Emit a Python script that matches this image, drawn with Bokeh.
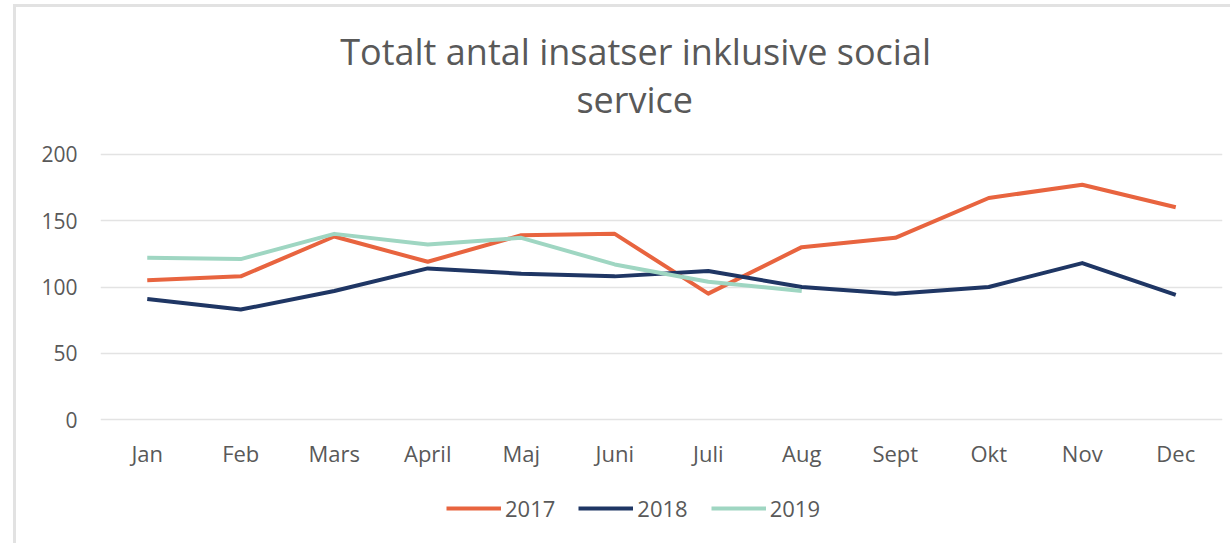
from bokeh.plotting import figure
from bokeh.models import Range1d, FactorRange, Legend, LegendItem, FixedTicker, Label
from bokeh.layouts import column
from bokeh.embed import file_html
from bokeh.resources import INLINE

# ---- data ----
months = ["Jan", "Feb", "Mars", "April", "Maj", "Juni", "Juli", "Aug", "Sept", "Okt", "Nov", "Dec"]
y_ticks = [0, 50, 100, 150, 200]
series_names = ["2017", "2018", "2019"]
v2017 = [105, 108, 138, 119, 139, 140, 95, 130, 137, 167, 177, 160]
v2018 = [91, 83, 97, 114, 110, 108, 112, 100, 95, 100, 118, 94]
v2019 = [122, 121, 140, 132, 137, 117, 104, 97]
title_lines = ["Totalt antal insatser inklusive social", "service"]

colors = ["#E8643F", "#1F3664", "#9FD6C2"]
text_color = "#595959"
font = "Open Sans"

W = 1214
H_TOP, H_MAIN, H_LEG = 133, 330, 73


def bare(fig):
    fig.outline_line_color = None
    fig.background_fill_color = "white"
    fig.border_fill_color = "white"
    fig.xgrid.grid_line_color = None
    fig.ygrid.grid_line_color = None
    return fig


# ---- title strip ----
p_title = bare(figure(width=W, height=H_TOP, x_range=Range1d(0, W), y_range=Range1d(0, H_TOP),
                      x_axis_location=None, y_axis_location=None,
                      output_backend="svg", toolbar_location=None, min_border=0))
p_title.add_layout(Label(x=579, y=89, text=title_lines[0], text_align="center",
                         text_baseline="alphabetic", text_font=font, text_font_size="36px",
                         text_color=text_color))
p_title.add_layout(Label(x=578, y=41, text=title_lines[1], text_align="center",
                         text_baseline="alphabetic", text_font=font, text_font_size="36px",
                         text_color=text_color))

# ---- main chart ----
p = figure(
    x_range=FactorRange(*months),
    y_range=Range1d(-2, 202),
    width=W, height=H_MAIN,
    output_backend="svg", toolbar_location=None,
    min_border_left=84, min_border_right=8,
    min_border_top=11, min_border_bottom=47,
)
p.outline_line_color = None
p.background_fill_color = "white"
p.border_fill_color = "white"
p.xgrid.grid_line_color = None
p.ygrid.grid_line_color = "#e3e3e3"
p.ygrid.grid_line_width = 1.5
p.yaxis.ticker = FixedTicker(ticks=y_ticks)

for ax in (p.xaxis, p.yaxis):
    ax.axis_line_color = None
    ax.major_tick_line_color = None
    ax.minor_tick_line_color = None
    ax.major_label_text_font = font
    ax.major_label_text_color = text_color
p.yaxis.major_label_text_font_size = "21px"
p.xaxis.major_label_text_font_size = "22px"
p.yaxis.major_label_standoff = 17
p.xaxis.major_label_standoff = 9

p.line(x=months, y=v2017, line_color=colors[0], line_width=4, line_join="round")
p.line(x=months, y=v2018, line_color=colors[1], line_width=4, line_join="round")
p.line(x=months[:len(v2019)], y=v2019, line_color=colors[2], line_width=4, line_join="round")

# ---- legend strip (its lines lie outside the visible range; only the legend shows) ----
p_leg = bare(figure(width=W, height=H_LEG, x_range=Range1d(0, 1), y_range=Range1d(0, 1),
                    x_axis_location=None, y_axis_location=None,
                    output_backend="svg", toolbar_location=None, min_border=0))
leg_renderers = [p_leg.line(x=list(range(len(v))), y=v, line_color=c, line_width=4)
                 for v, c in zip([v2017, v2018, v2019], colors)]
legend = Legend(
    items=[LegendItem(label=n, renderers=[r]) for n, r in zip(series_names, leg_renderers)],
    orientation="horizontal",
    location=(346, 20),
    glyph_width=55, glyph_height=20,
    label_standoff=4, spacing=23,
    padding=0, margin=0,
    border_line_color=None,
    background_fill_alpha=0,
    label_text_font=font,
    label_text_font_size="22px",
    label_text_color=text_color,
)
p_leg.add_layout(legend)

layout = column(p_title, p, p_leg, spacing=0)
layout.styles = {"margin-left": "13px", "margin-top": "4px",
                 "border-top": "3px solid #e2e2e2", "border-left": "3px solid #e2e2e2"}

open("out.html", "w").write(file_html(layout, INLINE))
